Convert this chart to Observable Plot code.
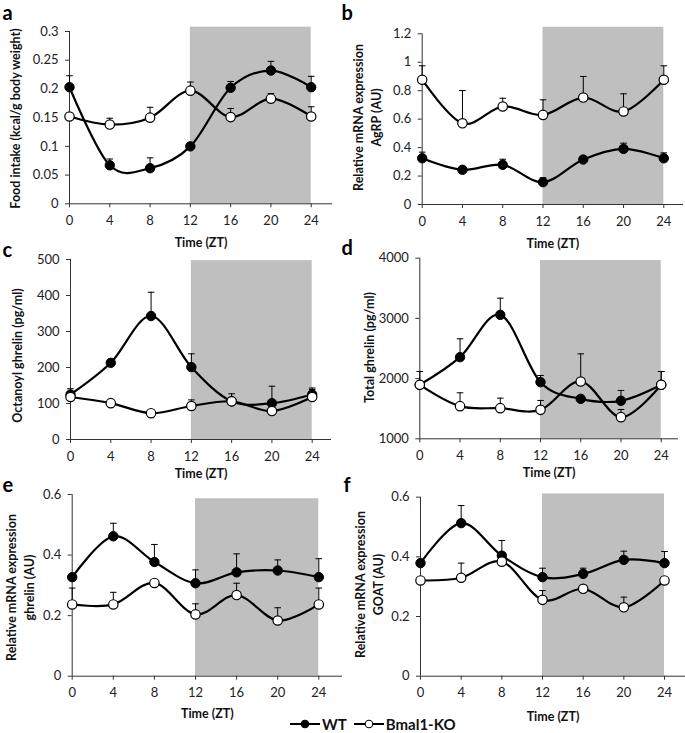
<!DOCTYPE html>
<html><head><meta charset="utf-8">
<script src="https://cdn.jsdelivr.net/npm/d3@7"></script>
<script src="https://cdn.jsdelivr.net/npm/@observablehq/plot@0.6"></script>
<style>
body{margin:0;background:#fff;}
#wrap{position:relative;width:685px;height:733px;overflow:hidden;font-family:Lato,"Open Sans",sans-serif;background:#fff;}
#wrap svg.pnl{position:absolute;left:0;top:0;}
#legend{position:absolute;left:289px;top:717px;height:14px;display:flex;align-items:center;font-weight:bold;font-size:15px;line-height:14px;color:#111;}
#legend span{margin-right:6px;}
</style></head><body><div id="wrap"></div>
<script>
// ---------- data ----------
const times = [0, 4, 8, 12, 16, 20, 24];
const xTicks = [0, 4, 8, 12, 16, 20, 24];
const darkPhase = [12, 24];
const groups = ["WT", "Bmal1-KO"];

// a: Food intake
const foodWT     = [0.203, 0.067, 0.062, 0.100, 0.202, 0.232, 0.203];
const foodWTerr  = [0.223, 0.078, 0.080, null, 0.213, 0.248, 0.222];
const foodKO     = [0.152, 0.138, 0.150, 0.197, 0.151, 0.183, 0.152];
const foodKOerr  = [null, 0.149, 0.168, 0.212, 0.166, 0.192, 0.169];
const foodTicks  = [0, 0.05, 0.1, 0.15, 0.2, 0.25, 0.3];

// b: AgRP
const agrpWT     = [0.325, 0.244, 0.279, 0.157, 0.316, 0.391, 0.325];
const agrpWTerr  = [0.368, null, 0.318, 0.188, null, 0.431, 0.363];
const agrpKO     = [0.877, 0.571, 0.689, 0.630, 0.752, 0.654, 0.877];
const agrpKOerr  = [0.975, 0.801, 0.747, 0.736, 0.900, 0.778, 0.975];
const agrpTicks  = [0, 0.2, 0.4, 0.6, 0.8, 1, 1.2];

// c: Octanoyl ghrelin
const octWT      = [125, 213, 343, 201, 106, 101, 125];
const octWTerr   = [141, null, 409, 238, null, 148, 143];
const octKO      = [118, 101, 73, 93, 106, 79, 118];
const octKOerr   = [null, null, null, 110, 127, null, 139];
const octTicks   = [0, 100, 200, 300, 400, 500];

// d: Total ghrelin
const totWT      = [1897, 2356, 3059, 1941, 1664, 1631, 1897];
const totWTerr   = [2118, 2661, 3336, 2052, null, 1803, 2118];
const totKO      = [1897, 1542, 1509, 1481, 1952, 1360, 1897];
const totKOerr   = [null, 1764, 1675, 1637, 2411, 1487, 2118];
const totTicks   = [1000, 2000, 3000, 4000];

// e: ghrelin mRNA
const ghrWT      = [0.327, 0.462, 0.377, 0.307, 0.343, 0.349, 0.327];
const ghrWTerr   = [null, 0.505, 0.435, 0.351, 0.404, 0.384, 0.388];
const ghrKO      = [0.237, 0.237, 0.308, 0.204, 0.268, 0.184, 0.237];
const ghrKOerr   = [0.291, 0.277, null, 0.239, 0.307, 0.226, 0.291];
const ghrTicks   = [0, 0.2, 0.4, 0.6];

// f: GOAT mRNA
const goatWT     = [0.379, 0.513, 0.404, 0.332, 0.343, 0.390, 0.379];
const goatWTerr  = [null, 0.572, 0.455, 0.362, 0.362, 0.419, 0.418];
const goatKO     = [0.321, 0.330, 0.384, 0.256, 0.293, 0.231, 0.321];
const goatKOerr  = [null, 0.379, null, 0.287, null, 0.265, null];
const goatTicks  = [0, 0.2, 0.4, 0.6];

const panelLetters = ["a", "b", "c", "d", "e", "f"];
const yTitles = [
  "Food intake (kcal/g body weight)",
  "Relative mRNA expression\nAgRP (AU)",
  "Octanoyl ghrelin (pg/ml)",
  "Total ghrelin (pg/ml)",
  "Relative mRNA expression\nghrelin (AU)",
  "Relative mRNA expression\nGOAT (AU)"
];
const xTitle = "Time (ZT)";
const shadeTops = [0.3075, 1.246, 497, 3961, 0.586, 0.611];
const yDomains = [[0, 0.3], [0, 1.2], [0, 500], [1000, 4000], [0, 0.6], [0, 0.6]];

// ---------- layout (pixels) ----------
const W = 685, H = 733;
const layout = [
  {x0: 69,    x24: 310.7, xEnd: 332, yB: 203.3, yT: 31,    titleX: 13.5, titleY: 118, timeDy: 39, lx: 2,   ly: 19.5},
  {x0: 421.7, x24: 663.3, xEnd: 683, yB: 204,   yT: 33.3,  titleX: 366,  titleY: 117, timeDy: 39, lx: 341, ly: 19.5},
  {x0: 70,    x24: 311.7, xEnd: 331, yB: 439,   yT: 259,   titleX: 15.5, titleY: 355, timeDy: 34, lx: 2,   ly: 256},
  {x0: 419.3, x24: 660.7, xEnd: 678, yB: 438.3, yT: 257.7, titleX: 368,  titleY: 347, timeDy: 34, lx: 341, ly: 254},
  {x0: 71.7,  x24: 318.3, xEnd: 342, yB: 675.7, yT: 494,   titleX: 19,   titleY: 587, timeDy: 38, lx: 2,   ly: 491},
  {x0: 420,   x24: 664,   xEnd: 685, yB: 675.7, yT: 496.7, titleX: 367.5, titleY: 584, timeDy: 41, lx: 343, ly: 491}
];

const series = [
  [foodWT, foodWTerr, foodKO, foodKOerr, foodTicks],
  [agrpWT, agrpWTerr, agrpKO, agrpKOerr, agrpTicks],
  [octWT, octWTerr, octKO, octKOerr, octTicks],
  [totWT, totWTerr, totKO, totKOerr, totTicks],
  [ghrWT, ghrWTerr, ghrKO, ghrKOerr, ghrTicks],
  [goatWT, goatWTerr, goatKO, goatKOerr, goatTicks]
];

const capSymbol = {
  draw(ctx, size) {
    const r = Math.sqrt(size / Math.PI);
    ctx.moveTo(-r, 0);
    ctx.lineTo(r, 0);
  }
};
const fmt = d => String(+d.toFixed(4));

const wrap = document.getElementById("wrap");

series.forEach(([wt, wtErr, ko, koErr, yTicks], i) => {
  const L = layout[i];
  const [yMin, yMax] = yDomains[i];
  const mk = (vals, errs, g) => times.map((t, j) => ({t, v: vals[j], e: errs[j], g}));
  const dWT = mk(wt, wtErr, groups[0]);
  const dKO = mk(ko, koErr, groups[1]);
  const all = dWT.concat(dKO);
  const errs = all.filter(d => d.e != null);

  const plot = Plot.plot({
    width: W, height: H,
    marginLeft: L.x0, marginRight: W - L.xEnd,
    marginTop: L.yT, marginBottom: H - L.yB,
    x: {domain: [0, 24], range: [L.x0, L.x24], axis: null},
    y: {domain: [yMin, yMax], range: [L.yB, L.yT], axis: null},
    style: {background: "transparent", overflow: "visible", fontFamily: "Lato, 'Open Sans', sans-serif", color: "#222"},
    marks: [
      Plot.rect([{x1: darkPhase[0], x2: darkPhase[1], y1: yMin, y2: shadeTops[i]}],
        {x1: "x1", x2: "x2", y1: "y1", y2: "y2", fill: "#bfbfbf"}),
      Plot.ruleX([0], {stroke: "#333", strokeWidth: 1}),
      Plot.ruleY([yMin], {stroke: "#333", strokeWidth: 1}),
      Plot.axisX(xTicks, {tickSize: 4, tickPadding: 8, fontSize: 13, label: null, tickFormat: fmt, stroke: "#333"}),
      Plot.axisY(yTicks, {tickSize: 4, tickPadding: 7, fontSize: 13, label: null, tickFormat: fmt, stroke: "#333"}),
      Plot.ruleX(errs, {x: "t", y1: "v", y2: "e", stroke: "#000", strokeWidth: 1}),
      Plot.dot(errs, {x: "t", y: "e", symbol: capSymbol, r: 3.3, stroke: "#000", strokeWidth: 1, fill: "none"}),
      Plot.line(all, {x: "t", y: "v", z: "g", curve: "cardinal", stroke: "#000", strokeWidth: 2.2}),
      Plot.dot(dWT, {x: "t", y: "v", r: 4.7, fill: "#000", stroke: "#000", strokeWidth: 1}),
      Plot.dot(dKO, {x: "t", y: "v", r: 4.7, fill: "#fff", stroke: "#000", strokeWidth: 1.2}),
      Plot.text([yTitles[i]], {text: d => d, frameAnchor: "top-left", rotate: -90,
        dx: L.titleX - L.x0, dy: L.titleY - L.yT, textAnchor: "middle", lineAnchor: "middle",
        fontWeight: "bold", fontSize: 12.5, lineHeight: 1.45, fill: "#111"}),
      Plot.text([xTitle], {text: d => d, frameAnchor: "bottom", dy: L.timeDy, lineAnchor: "middle",
        fontWeight: "bold", fontSize: 12.5, fill: "#111"}),
      Plot.text([panelLetters[i]], {text: d => d, frameAnchor: "top-left",
        dx: L.lx - L.x0, dy: L.ly - L.yT, textAnchor: "start", lineAnchor: "bottom",
        fontWeight: "bold", fontSize: 20, fill: "#000"})
    ]
  });
  plot.classList.add("pnl");
  wrap.appendChild(plot);
});

// legend
const leg = document.createElement("div");
leg.id = "legend";
const sym = filled => `<svg width="32" height="12" style="margin-right:1px"><line x1="1" y1="6" x2="31" y2="6" stroke="#000" stroke-width="2"/><circle cx="16" cy="6" r="3.8" fill="${filled ? "#000" : "#fff"}" stroke="#000" stroke-width="1.1"/></svg>`;
leg.innerHTML = sym(true) + `<span>${groups[0]}</span>` + sym(false) + `<span>${groups[1]}</span>`;
wrap.appendChild(leg);
</script></body></html>
